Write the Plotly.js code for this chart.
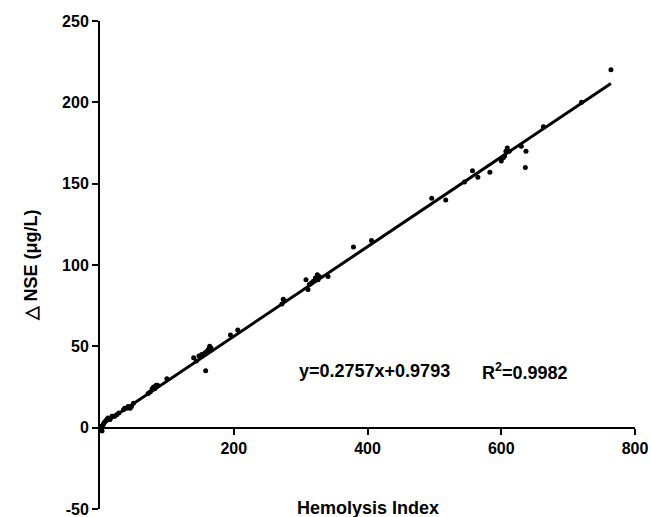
<!DOCTYPE html>
<html>
<head>
<meta charset="utf-8">
<script src="https://cdn.plot.ly/plotly-3.0.1.min.js"></script>
<style>html,body{margin:0;padding:0;background:#fff;}#chart{width:651px;height:517px;}</style>
</head>
<body>
<div id="chart"></div>
<script>
var hemolysisIndex = [1,2,3,4,5,6,8,10,12,15,18,20,22,25,28,35,37,40,42,45,47,50,72,75,78,80,82,84,86,100,140,144,148,152,155,157,158,160,162,164,166,195,206,272,274,276,308,311,313,316,319,322,325,326,328,341,379,406,496,517,545,557,565,583,600,603,605,607,609,612,630,637,636,663,720,764];
var deltaNSE = [-1,0,-2,1,2,3,4,5,6,5,7,7,7,8,9,11,12,12,13,12,13,15,21,22,24,25,24,26,26,30,43,41,44,45,45,46,35,47,48,50,49,57,60,76,79,78,91,85,88,89,90,92,94,91,93,93,111,115,141,140,151,158,154,157,164,166,167,170,172,170,173,170,160,185,200,220];
var fitX = [0, 764];
var fitY = [0.98, 211.6];
var xTicks = [200, 400, 600, 800];
var yTicks = [-50, 0, 50, 100, 150, 200, 250];
var equationText = "y=0.2757x+0.9793";
var r2Text = "R<sup>2</sup>=0.9982";

var fontFam = '"Liberation Sans", Arial, Helvetica, sans-serif';

var traces = [
  {x: hemolysisIndex, y: deltaNSE, type: 'scatter', mode: 'markers',
   marker: {color: '#000', size: 5}, cliponaxis: false, showlegend: false, hoverinfo: 'none'},
  {x: fitX, y: fitY, type: 'scatter', mode: 'lines',
   line: {color: '#000', width: 3}, cliponaxis: false, showlegend: false, hoverinfo: 'none'}
];

var layout = {
  width: 651, height: 517,
  margin: {l: 100, r: 16, t: 21, b: 8, autoexpand: false},
  paper_bgcolor: '#fff', plot_bgcolor: '#fff',
  font: {family: fontFam, color: '#000'},
  xaxis: {
    range: [0, 800], tickvals: xTicks, ticktext: xTicks.map(String),
    showgrid: false, zeroline: false, showline: true, linecolor: '#000', linewidth: 2,
    ticks: 'outside', ticklen: 6, tickwidth: 2, tickcolor: '#000',
    tickfont: {size: 16, family: fontFam, weight: 'bold'},
    ticklabeloverflow: 'allow',
    anchor: 'free', position: 1/6, automargin: false
  },
  yaxis: {
    range: [-50, 250], tickvals: yTicks, ticktext: yTicks.map(String),
    showgrid: false, zeroline: false, showline: true, linecolor: '#000', linewidth: 2,
    ticks: 'outside', ticklen: 6, tickwidth: 2, tickcolor: '#000',
    tickfont: {size: 16, family: fontFam, weight: 'bold'},
    ticklabeloverflow: 'allow',
    title: {text: '△ NSE (μg/L)', font: {size: 18, family: fontFam, weight: 'bold'}, standoff: 20},
    automargin: false
  },
  annotations: [
    {text: 'Hemolysis Index', xref: 'paper', yref: 'paper', x: 0.5, y: 0.002,
     xanchor: 'center', yanchor: 'middle', showarrow: false,
     font: {size: 18, family: fontFam, weight: 'bold'}},
    {text: equationText, xref: 'x', yref: 'y', x: 294.5, y: 34.6,
     xanchor: 'left', yanchor: 'middle', showarrow: false,
     font: {size: 18, family: fontFam, weight: 'bold'}},
    {text: r2Text, xref: 'x', yref: 'y', x: 568, y: 34.6,
     xanchor: 'left', yanchor: 'middle', showarrow: false,
     font: {size: 18, family: fontFam, weight: 'bold'}}
  ]
};

Plotly.newPlot('chart', traces, layout, {staticPlot: true, displayModeBar: false});
</script>
</body>
</html>
